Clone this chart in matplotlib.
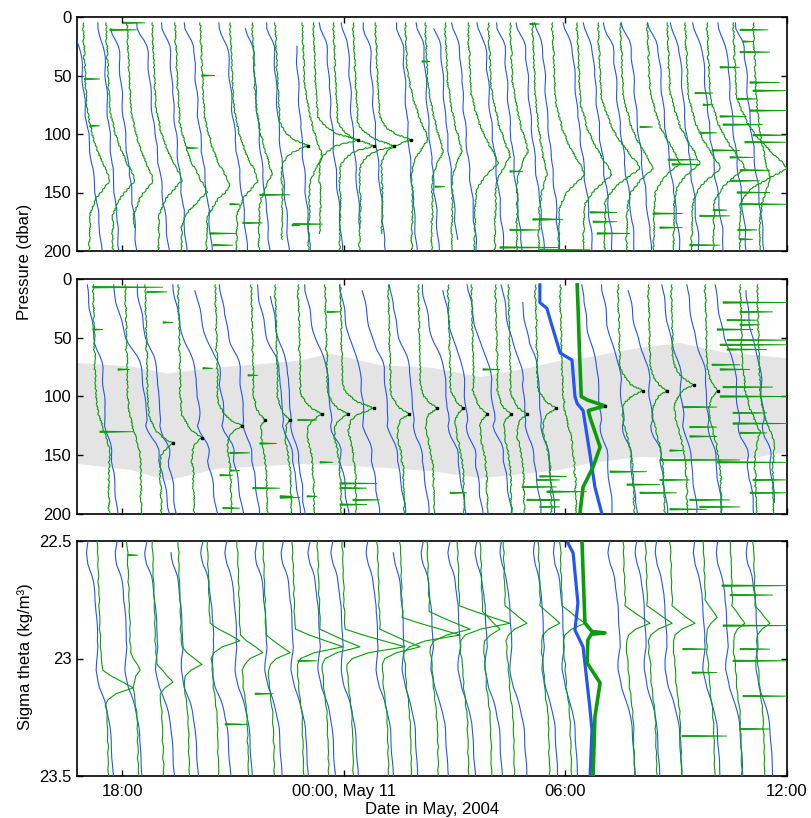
import numpy as np
import matplotlib
matplotlib.use("Agg")
import matplotlib.pyplot as plt

plt.rcParams['font.family'] = ['Liberation Sans', 'DejaVu Sans']

# ---------------- axes data ----------------
X_MIN, X_MAX = 16.78, 36.0            # hours since 00:00 May 10
X_TICKS = [18, 24, 30, 36]
X_TICKLABELS = ["18:00", "00:00, May 11", "06:00", "12:00"]
P_TICKS = [0, 50, 100, 150, 200]
S_TICKS = [22.5, 23.0, 23.5]
S_TICKLABELS = ["22.5", "23", "23.5"]

LEV_P = np.arange(0, 201, 5)                       # pressure grid (dbar)
LEV_S = np.round(22.5 + 0.025 * np.arange(41), 3)  # sigma-theta grid

# ---------------- profile shape templates (hours of offset) ----------------
P1_BLUE_TMPL = [0, 0, 0.02, 0.08, 0.15, 0.20, 0.22, 0.23, 0.24, 0.25,
                0.26, 0.27, 0.28, 0.29, 0.30, 0.31, 0.32, 0.33, 0.35, 0.36,
                0.38, 0.39, 0.41, 0.42, 0.44, 0.45, 0.47, 0.48, 0.50, 0.52,
                0.53, 0.55, 0.56, 0.58, 0.59, 0.60, 0.62, 0.63, 0.64, 0.65, 0.66]
P1_GREEN_DRIFT = [0, 0.01, 0.01, 0.02, 0.02, 0.03, 0.04, 0.04, 0.05, 0.05,
                  0.06, 0.07, 0.08, 0.08, 0.09, 0.10, 0.11, 0.12, 0.12, 0.13,
                  0.14, 0.15, 0.15, 0.16, 0.16, 0.17, 0.17, 0.18, 0.18, 0.19,
                  0.20, 0.20, 0.20, 0.20, 0.19, 0.19, 0.19, 0.18, 0.18, 0.18, 0.18]
P2_BLUE_TMPL = [0, 0, 0.02, 0.05, 0.08, 0.11, 0.14, 0.17, 0.20, 0.24,
                0.28, 0.33, 0.40, 0.48, 0.55, 0.60, 0.62, 0.63, 0.62, 0.63,
                0.65, 0.68, 0.70, 0.72, 0.72, 0.68, 0.72, 0.80, 0.90, 0.97,
                0.98, 0.96, 0.98, 1.02, 1.05, 1.08, 1.10, 1.12, 1.14, 1.16, 1.18]
P2_GREEN_DRIFT = [0, 0.01, 0.01, 0.01, 0.02, 0.02, 0.02, 0.03, 0.03, 0.03,
                  0.04, 0.04, 0.04, 0.05, 0.05, 0.05, 0.06, 0.06, 0.06, 0.06,
                  0.07, 0.08, 0.09, 0.11, 0.14, 0.18, 0.22, 0.26, 0.30, 0.33,
                  0.36, 0.38, 0.40, 0.41, 0.42, 0.42, 0.43, 0.43, 0.44, 0.44, 0.44]
P3_BLUE_TMPL = [0, -0.03, -0.05, -0.03, 0.0, 0.06, 0.11, 0.14, 0.16, 0.18,
                0.19, 0.21, 0.22, 0.23, 0.24, 0.25, 0.26, 0.26, 0.27, 0.25,
                0.23, 0.22, 0.22, 0.25, 0.28, 0.31, 0.37, 0.43, 0.48, 0.52,
                0.55, 0.58, 0.60, 0.61, 0.62, 0.63, 0.64, 0.65, 0.66, 0.67, 0.68]
P3_GREEN_DRIFT = [0, 0.01, 0.02, 0.02, 0.03, 0.03, 0.04, 0.04, 0.05, 0.05,
                  0.06, 0.06, 0.07, 0.07, 0.08, 0.08, 0.09, 0.09, 0.10, 0.10,
                  0.12, 0.14, 0.15, 0.16, 0.17, 0.18, 0.20, 0.22, 0.24, 0.26,
                  0.27, 0.28, 0.28, 0.29, 0.29, 0.30, 0.30, 0.30, 0.31, 0.31, 0.31]
BLUE_WAVE = [0.00, 0.01, 0.02, 0.01, -0.01, -0.02, 0.00, 0.02, 0.025, 0.01,
             -0.01, -0.025, -0.015, 0.005, 0.02, 0.015, -0.005, -0.02, -0.01, 0.01,
             0.025, 0.015, -0.005, -0.015, -0.02, 0.00, 0.015, 0.025, 0.01, -0.01,
             -0.02, -0.01, 0.005, 0.02, 0.015, 0.00, -0.015, -0.02, -0.005, 0.01, 0.015]
GREEN_JIT = [0.00, 0.01, -0.005, 0.015, -0.01, 0.005, 0.01, -0.015, 0.005, 0.00,
             0.015, -0.01, -0.005, 0.01, 0.00, -0.015, 0.01, 0.005, -0.01, 0.015,
             0.00, -0.005, 0.01, -0.01, 0.005, 0.015, -0.005, 0.00, -0.015, 0.01,
             0.005, -0.01, 0.01, 0.00, -0.005, 0.015, -0.01, 0.005, 0.00, -0.015, 0.01]
PEAK_BROAD = [0, 0.05, 0.10, 0.15, 0.20, 0.27, 0.35, 0.45, 0.55, 0.67, 0.80, 0.92,
              1.0, 0.75, 0.50, 0.30, 0.15, 0.05, 0]
PEAK_SHARP = [0, 0.10, 0.25, 0.50, 1.0, 0.45, 0.20, 0.08, 0]
PEAK_MED = [0, 0.30, 0.65, 1.0, 0.40, 0.10, 0]

# ---------------- panel 1 (pressure) ----------------
P1_BLUE_T = [16.59, 17.32, 17.67, 18.40, 19.08, 19.70, 20.60, 21.33, 21.92, 22.55,
             23.36, 23.95, 24.52, 25.44, 25.98, 26.42, 26.93, 27.61, 28.15, 28.69,
             29.18, 29.94, 30.48, 31.02, 31.53, 32.24, 32.83, 33.43, 34.11, 34.59]
P1_BLUE_SCALE = [1.3, 0.9, 1.1, 1.3, 1.0, 1.1, 1.2, 1.0, 0.9, 0.8,
                 0.9, 0.8, 0.9, 0.8, 0.9, 1.0, 1.0, 1.1, 1.0, 1.1,
                 1.0, 1.2, 1.2, 1.3, 1.2, 1.3, 1.2, 1.3, 1.2, 1.2]
P1_BLUE_P0 = [20, 5, 10, 5, 5, 5, 5, 10, 5, 25, 5, 5, 5, 5, 5,
              10, 5, 5, 5, 5, 5, 5, 5, 5, 5, 5, 5, 5, 5, 5]
P1_BLUE_P1 = [200, 200, 200, 200, 200, 200, 200, 200, 200, 200, 200, 180, 200, 200, 200,
              190, 200, 200, 200, 200, 200, 200, 200, 200, 200, 200, 200, 200, 200, 200]

P1_GREEN_T = [16.94, 17.56, 18.13, 18.81, 19.43, 20.11, 20.92, 21.52, 22.14, 22.87,
              23.17, 23.71, 24.25, 24.85, 25.66, 26.20, 26.74, 27.36, 27.91, 28.50,
              29.10, 29.64, 30.31, 30.88, 31.48, 32.21, 32.75, 33.24, 33.83, 34.54, 35.08]
P1_GREEN_PEAK = [142, 141, 141, 142, 150, 144, 139, 135, 109, 120,
                 103, 109, 108, 107, 107, 116, 116, 126, 120, 116,
                 133, 133, 133, 128, 128, 125, 125, 130, 131, 131, 140]
P1_GREEN_TIP = [17.67, 18.35, 18.84, 19.62, 20.30, 20.92, 21.68, 22.06, 23.03, 23.41,
                24.39, 24.82, 25.36, 25.82, 26.28, 26.69, 27.20, 28.18, 28.50, 28.99,
                29.50, 30.53, 31.26, 32.02, 32.37, 33.10, 33.64, 34.19, 34.86, 36.00, 35.54]
P1_GREEN_DOT = [0, 0, 0, 0, 0, 0, 0, 0, 1, 0,
                1, 1, 1, 1, 0, 0, 0, 0, 0, 0,
                0, 0, 0, 0, 0, 0, 0, 0, 0, 0, 0]
P1_GREEN_P1 = [200, 200, 180, 200, 200, 200, 200, 200, 190, 200,
               185, 200, 200, 185, 200, 200, 200, 200, 200, 200,
               200, 200, 200, 200, 200, 200, 200, 200, 200, 200, 200]

P1_SPK_T0 = [17.67, 18.03, 16.98, 17.13, 19.76, 20.16, 20.92, 20.38, 20.46, 21.27,
             21.73, 22.60, 22.63, 26.12, 26.47, 28.50, 29.12, 28.50, 28.23, 29.04,
             34.73, 34.81, 34.19, 35.08, 34.67, 33.51, 33.73, 32.02, 33.64, 34.27,
             35.08, 33.97, 34.46, 32.78, 32.89, 34.73, 34.65, 32.37, 32.56, 30.67,
             30.75, 29.31, 30.86, 29.31, 34.00, 34.67, 34.73,
             34.73, 35.00, 34.86, 34.46, 34.73, 33.64, 33.37, 35.00, 34.19]
P1_SPK_T1 = [18.40, 18.62, 17.40, 17.40, 20.06, 20.52, 21.19, 21.11, 21.00, 21.81,
             22.55, 22.82, 23.44, 26.34, 26.74, 28.85, 29.85, 29.31, 29.85, 29.31,
             35.49, 35.08, 34.73, 36.00, 35.19, 34.00, 34.00, 32.37, 34.11, 35.35,
             36.00, 34.73, 35.08, 33.56, 33.64, 35.54, 35.54, 33.18, 33.18, 31.40,
             31.40, 29.94, 31.75, 30.67, 34.38, 35.19, 35.08,
             35.54, 36.00, 36.00, 35.27, 36.00, 34.46, 34.19, 35.80, 34.90]
P1_SPK_P = [11, 5, 53, 93, 112, 50, 160, 185, 195, 176,
            152, 178, 177, 38, 145, 132, 173, 182, 197, 6,
            11, 21, 43, 63, 70, 65, 75, 94, 99, 92,
            101, 114, 120, 122, 126, 131, 150, 168, 180, 167,
            175, 173, 185, 199, 165, 182, 190,
            30, 80, 107, 140, 160, 170, 195, 56, 85]

# ---------------- panel 2 (pressure, shaded layer) ----------------
BAND_T = [16.78, 18.21, 19.22, 20.57, 21.73, 22.82, 23.63, 24.98, 26.34, 27.69,
          29.04, 29.86, 30.67, 32.02, 33.10, 34.27, 36.00]
BAND_TOP = [71, 74, 80, 75, 72, 69, 63, 73, 75, 83, 75, 69, 66, 58, 54, 62, 67]
BAND_BOT = [157, 162, 171, 161, 159, 157, 158, 160, 163, 169, 165, 162, 156, 151, 152, 156, 147]

P2_BLUE_T = [17.05, 17.75, 18.40, 19.38, 19.97, 20.65, 21.65, 22.00, 22.95, 23.90,
             24.49, 25.25, 26.12, 26.69, 27.36, 28.28, 28.77, 30.45, 30.99, 31.70,
             32.62, 33.29, 34.05, 34.86]
P2_BLUE_SCALE = [0.7, 1.3, 0.9, 1.0, 1.1, 0.9, 1.0, 0.8, 1.0, 0.9,
                 1.0, 0.9, 1.0, 0.9, 1.0, 0.9, 0.8, 0.7, 0.8, 0.9,
                 0.8, 0.8, 0.9, 0.7]
P2_BLUE_P0 = [5, 5, 5, 5, 10, 5, 5, 15, 5, 5, 10, 5, 5, 10, 5, 5, 20, 5, 5, 10, 5, 5, 5, 10]
P2_BLUE_P1 = [200, 200, 200, 200, 200, 200, 200, 200, 200, 200, 200, 200,
              200, 200, 200, 200, 200, 200, 200, 200, 200, 200, 200, 190]

P2_GREEN_T = [17.21, 18.08, 18.62, 19.51, 20.52, 21.49, 22.14, 22.76, 23.49, 23.90,
              25.20, 26.01, 26.82, 27.45, 28.10, 28.45, 29.18, 29.85, 31.42, 32.24,
              32.86, 33.78, 34.73, 35.19]
P2_GREEN_PEAK = [145, 150, 140, 136, 123, 121, 122, 117, 115, 109,
                 114, 109, 111, 117, 117, 117, 108, 130, 97, 97,
                 92, 97, 130, 140]
P2_GREEN_TIP = [17.67, 18.49, 19.38, 20.16, 21.25, 21.87, 22.55, 23.41, 24.12, 24.82,
                25.77, 26.53, 27.23, 27.88, 28.53, 28.96, 29.75, 30.13, 32.10, 32.75,
                33.48, 34.13, 35.27, 35.67]
P2_GREEN_DOT = [0, 0, 1, 1, 1, 1, 1, 1, 1, 1,
                1, 1, 1, 1, 1, 1, 1, 0, 1, 1,
                1, 1, 0, 0]

P2_SPK_T0 = [17.21, 18.67, 19.11, 17.21, 17.89, 17.40, 20.19, 21.41, 20.92, 21.73,
             20.92, 20.65, 21.54, 22.28, 20.73, 23.55, 22.76, 23.36, 23.90, 23.90,
             24.25, 23.90, 23.01, 22.28, 27.77, 26.88, 28.83, 29.23, 28.96, 29.31,
             29.31, 29.50, 29.31, 31.21, 31.67,
             34.27, 34.73, 34.38, 34.73, 34.11, 34.38, 34.19, 34.38, 33.97, 34.19,
             34.27, 34.19, 33.18, 34.54, 33.37, 34.54, 34.73, 33.37, 32.83, 32.56,
             34.11, 32.56, 35.08, 32.02, 33.37, 33.64, 35.00, 32.83]
P2_SPK_T1 = [19.11, 19.22, 19.38, 17.48, 18.21, 18.30, 20.46, 21.68, 21.46, 22.19,
             21.19, 21.00, 22.28, 22.82, 21.19, 23.90, 23.28, 23.71, 24.90, 24.63,
             24.98, 24.63, 23.28, 22.63, 28.23, 27.34, 29.77, 29.85, 29.85, 29.85,
             30.04, 30.58, 29.85, 32.21, 32.56,
             36.00, 35.62, 35.19, 35.27, 35.08, 36.00, 36.00, 35.46, 34.73, 35.00,
             35.62, 36.00, 34.11, 35.46, 34.11, 36.00, 35.46, 34.11, 33.18, 34.73,
             36.00, 33.37, 36.00, 33.02, 34.46, 34.73, 36.00, 33.83]
P2_SPK_P = [7, 11, 37, 43, 77, 130, 76, 82, 148, 140,
            163, 167, 178, 186, 195, 28, 120, 156, 174, 178,
            188, 192, 185, 185, 77, 182, 177, 171, 188, 194,
            168, 181, 188, 164, 175,
            20, 28, 35, 39, 43, 52, 56, 60, 73, 77,
            92, 100, 109, 114, 126, 123, 131, 134, 146, 154,
            156, 171, 171, 182, 188, 194, 182, 196]

P2_HL_BLUE_P = [5, 20, 25, 40, 63, 69, 100, 106, 112, 150, 177, 200]
P2_HL_BLUE_T = [29.31, 29.31, 29.50, 29.64, 29.86, 30.18, 30.26, 30.32, 30.48, 30.67, 30.80, 30.99]
P2_HL_GREEN_P = [5, 30, 60, 100, 103, 108, 112, 118, 130, 143, 160, 177, 198]
P2_HL_GREEN_T = [30.32, 30.35, 30.38, 30.43, 30.60, 31.07, 30.62, 30.67, 30.80, 30.94, 30.75, 30.48, 30.40]

# ---------------- panel 3 (sigma theta) ----------------
P3_BLUE_T = [17.08, 17.86, 18.67, 19.38, 20.19, 20.84, 21.65, 22.36, 23.09, 23.71,
             24.66, 25.39, 26.15, 26.88, 27.61, 28.28, 29.18, 29.72, 31.21, 31.94,
             32.48, 33.51, 34.13, 34.94]
P3_BLUE_SCALE = [1.0, 1.0, 1.1, 1.0, 1.1, 1.0, 1.0, 1.0, 1.0, 1.0,
                 1.0, 0.9, 1.0, 1.0, 1.0, 1.0, 0.9, 0.9, 1.0, 0.9,
                 1.0, 1.0, 1.0, 1.0]
P3_BLUE_S0 = [22.5, 22.5, 22.5, 22.55, 22.5, 22.5, 22.5, 22.5, 22.5, 22.5,
              22.5, 22.55, 22.5, 22.5, 22.5, 22.5, 22.5, 22.5, 22.5, 22.5,
              22.5, 22.5, 22.5, 22.5]

P3_GREEN_T = [17.32, 18.13, 18.81, 19.51, 20.30, 21.11, 21.81, 22.60, 23.28, 23.95,
              24.90, 25.52, 26.25, 27.07, 27.69, 28.31, 29.26, 29.85, 31.56, 32.16,
              32.83, 33.73, 34.46, 35.08]
P3_GREEN_PEAK = [23.12, 23.05, 23.09, 23.02, 22.93, 22.98, 22.98, 22.96, 22.95, 22.96,
                 22.95, 22.91, 22.88, 22.85, 22.88, 22.86, 22.85, 22.86, 22.85, 22.86,
                 22.86, 22.82, 22.85, 22.85]
P3_GREEN_TIP = [18.30, 18.49, 19.38, 20.16, 21.19, 21.81, 22.55, 23.98, 24.44, 25.66,
                26.07, 27.15, 27.42, 28.50, 28.23, 28.96, 29.85, 30.53, 32.29, 32.89,
                33.51, 34.11, 34.86, 35.54]

P3_SPK_T0 = [33.18, 34.24, 34.46, 34.27, 34.73, 34.54, 33.43, 34.81, 34.73, 33.16,
             18.16, 20.79, 21.60, 22.76]
P3_SPK_T1 = [33.83, 36.00, 35.62, 36.00, 35.54, 36.00, 34.11, 36.00, 35.54, 34.38,
             18.43, 21.41, 22.09, 23.28]
P3_SPK_S = [22.96, 22.69, 22.73, 22.86, 22.96, 23.01, 23.06, 23.16, 23.30, 23.33,
            22.56, 23.28, 23.15, 23.01]

P3_HL_BLUE_S = [22.509, 22.551, 22.764, 22.879, 22.951, 23.219, 23.304, 23.5]
P3_HL_BLUE_T = [30.07, 30.21, 30.34, 30.26, 30.48, 30.67, 30.72, 30.67]
P3_HL_GREEN_S = [22.5, 22.849, 22.885, 22.891, 22.897, 22.921, 23.019, 23.104, 23.249, 23.504]
P3_HL_GREEN_T = [30.45, 30.53, 30.72, 31.07, 30.70, 30.61, 30.59, 30.94, 30.80, 30.75]

# ---------------- drawing ----------------
BLUE = '#2456f5'
GREEN = '#0b9c0b'
BAND = '#e4e4e4'

BLUE_WAVE = np.array(BLUE_WAVE)
GREEN_JIT = np.array(GREEN_JIT)
SHAPES = {'b': (np.array(PEAK_BROAD), 12), 's': (np.array(PEAK_SHARP), 4),
          'm': (np.array(PEAK_MED), 3)}


def idx(lev, v):
    return int(np.argmin(np.abs(lev - v)))


def draw_blue(ax, lev, tmpl, t0s, scales, v0s, v1s, wave=1.0):
    tmpl = np.array(tmpl)
    for k, (t0, sc, v0, v1) in enumerate(zip(t0s, scales, v0s, v1s)):
        ii = np.arange(idx(lev, v0), idx(lev, v1) + 1)
        x = t0 + sc * tmpl[ii] + wave * BLUE_WAVE[(ii + 7 * k) % 41]
        ax.plot(x, lev[ii], color=BLUE, lw=0.8, zorder=3)


def draw_green(ax, lev, drift, t0s, pks, tips, v0s, v1s, shapes, dots, fuzz=True):
    drift = np.array(drift)
    for k, (t0, pk, tip, v0, v1, sh, dot) in enumerate(
            zip(t0s, pks, tips, v0s, v1s, shapes, dots)):
        i0, i1 = idx(lev, v0), idx(lev, v1)
        ii = np.arange(i0, i1 + 1)
        x = t0 + drift[ii] + GREEN_JIT[(ii + 11 * k) % 41]
        ipk = idx(lev, pk)
        shape, c = SHAPES[sh]
        amp = tip - (t0 + drift[ipk])
        for j, v in enumerate(shape):
            m = ipk - c + j
            if i0 <= m <= i1:
                x[m - i0] += amp * v
        if i0 <= ipk <= i1:
            x[ipk - i0] = tip
        ln, = ax.plot(x, lev[ii], color=GREEN, lw=0.8, zorder=4)
        if fuzz:
            ln.set_sketch_params(scale=0.6, length=4.0, randomness=4.0)
        if dot:
            ax.plot([tip], [lev[ipk]], 's', color='k', ms=1.8, zorder=6)


def draw_spikes(ax, t0s, t1s, ys, dy):
    for a, b, y in zip(t0s, t1s, ys):
        ax.fill([a, b, a], [y - dy / 2, y, y + dy / 2], color=GREEN, lw=0.6,
                ec=GREEN, zorder=4)


fig = plt.figure(figsize=(8.12, 8.18), dpi=100)
W, H = 812.0, 818.0
ax1 = fig.add_axes([77 / W, 1 - 251 / H, 710 / W, 234 / H])
ax2 = fig.add_axes([77 / W, 1 - 514 / H, 710 / W, 235 / H])
ax3 = fig.add_axes([77 / W, 1 - 776 / H, 710 / W, 235 / H])

# panel 1
n = len(P1_GREEN_T)
draw_blue(ax1, LEV_P, P1_BLUE_TMPL, P1_BLUE_T, P1_BLUE_SCALE, P1_BLUE_P0, P1_BLUE_P1)
draw_green(ax1, LEV_P, P1_GREEN_DRIFT, P1_GREEN_T, P1_GREEN_PEAK, P1_GREEN_TIP,
           [5] * n, P1_GREEN_P1, ['s' if d else 'b' for d in P1_GREEN_DOT], P1_GREEN_DOT)
draw_spikes(ax1, P1_SPK_T0, P1_SPK_T1, P1_SPK_P, 1.2)

# panel 2
ax2.fill_between(BAND_T, BAND_TOP, BAND_BOT, color=BAND, lw=0, zorder=0)
n = len(P2_GREEN_T)
draw_blue(ax2, LEV_P, P2_BLUE_TMPL, P2_BLUE_T, P2_BLUE_SCALE, P2_BLUE_P0, P2_BLUE_P1)
draw_green(ax2, LEV_P, P2_GREEN_DRIFT, P2_GREEN_T, P2_GREEN_PEAK, P2_GREEN_TIP,
           [5] * n, [200] * n, ['s' if d else 'b' for d in P2_GREEN_DOT], P2_GREEN_DOT)
draw_spikes(ax2, P2_SPK_T0, P2_SPK_T1, P2_SPK_P, 1.2)
ax2.plot(P2_HL_BLUE_T, P2_HL_BLUE_P, color=BLUE, lw=2.3, zorder=5)
ax2.plot(P2_HL_GREEN_T, P2_HL_GREEN_P, color=GREEN, lw=2.6, zorder=5)
ax2.plot([P2_HL_GREEN_T[5]], [P2_HL_GREEN_P[5]], 's', color='k', ms=1.8, zorder=6)

# panel 3
n = len(P3_GREEN_T)
draw_blue(ax3, LEV_S, P3_BLUE_TMPL, P3_BLUE_T, P3_BLUE_SCALE, P3_BLUE_S0,
          [23.5] * len(P3_BLUE_T), wave=0.4)
draw_green(ax3, LEV_S, P3_GREEN_DRIFT, P3_GREEN_T, P3_GREEN_PEAK, P3_GREEN_TIP,
           [22.5] * n, [23.5] * n, ['m'] * n, [0] * n, fuzz=False)
draw_spikes(ax3, P3_SPK_T0, P3_SPK_T1, P3_SPK_S, 0.006)
ax3.plot(P3_HL_BLUE_T, P3_HL_BLUE_S, color=BLUE, lw=2.3, zorder=5)
ax3.plot(P3_HL_GREEN_T, P3_HL_GREEN_S, color=GREEN, lw=2.6, zorder=5)

FS = 12
for ax in (ax1, ax2, ax3):
    ax.set_xlim(X_MIN, X_MAX)
    ax.set_xticks(X_TICKS)
    ax.tick_params(direction='in', top=True, right=True, length=4, width=1,
                   labelsize=FS, pad=4)
    for s in ax.spines.values():
        s.set_linewidth(1.2)
for ax in (ax1, ax2):
    ax.set_ylim(200, 0)
    ax.set_yticks(P_TICKS)
    ax.set_xticklabels([])
ax3.set_ylim(23.5, 22.5)
ax3.set_yticks(S_TICKS)
ax3.set_yticklabels(S_TICKLABELS)
ax3.set_xticklabels(X_TICKLABELS)
ax3.tick_params(axis='x', pad=6)
ax3.set_xlabel("Date in May, 2004", fontsize=FS, labelpad=2)

fig.text(25 / W, 1 - 262 / H, "Pressure (dbar)", rotation=90, ha='center', va='center', fontsize=FS)
fig.text(25 / W, 1 - 657 / H, "Sigma theta (kg/m³)", rotation=90, ha='center', va='center', fontsize=FS)

fig.savefig("out.png", dpi=100)
